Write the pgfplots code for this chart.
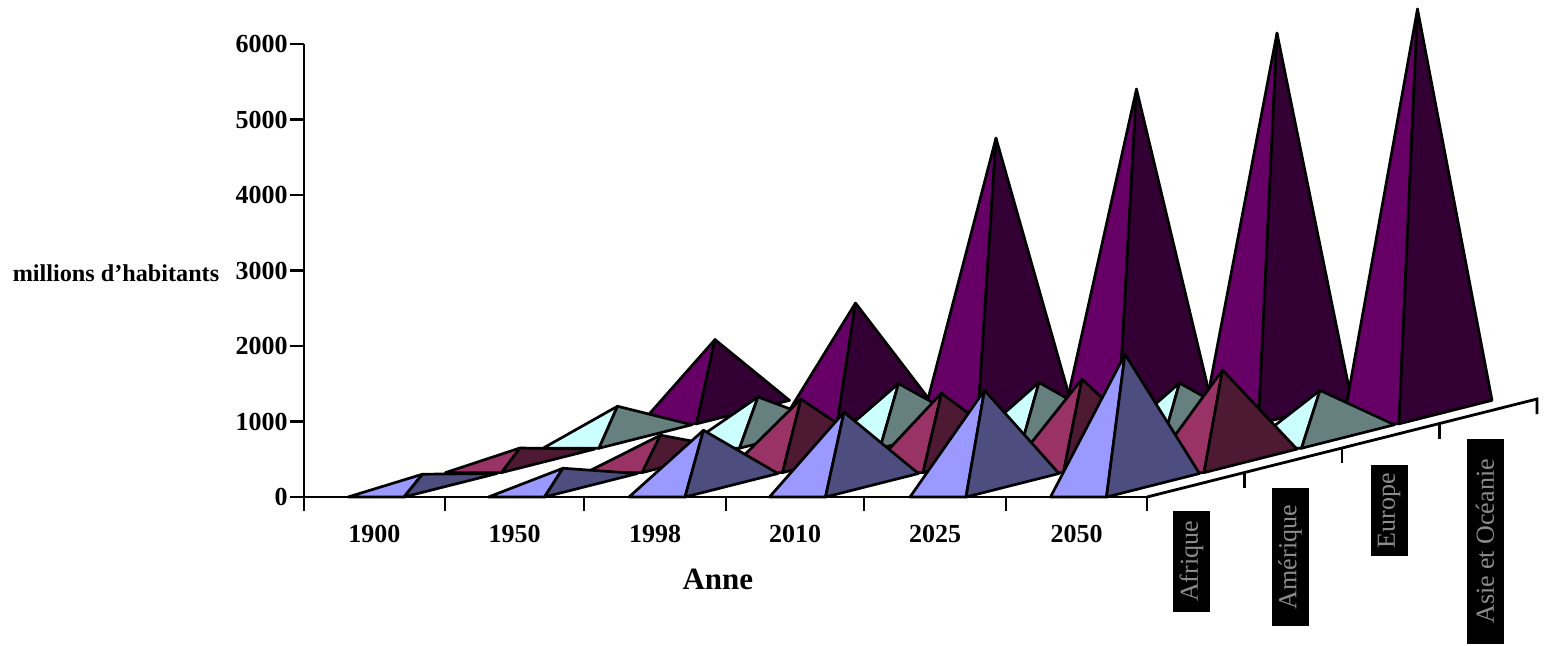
\documentclass[border=0pt]{standalone}
\usepackage{fontspec}
\setmainfont{Liberation Serif}
\usepackage{pgfplots}
\pgfplotsset{compat=1.18}

% x is in reference pixels, y in millions; the picture is 1 px = 0.5 pt
\definecolor{asiaL}{HTML}{660066}
\definecolor{asiaD}{HTML}{330033}
\definecolor{euroL}{HTML}{CCFFFF}
\definecolor{euroD}{HTML}{668080}
\definecolor{ameL}{HTML}{993366}
\definecolor{ameD}{HTML}{4D1933}
\definecolor{afrL}{HTML}{9999FF}
\definecolor{afrD}{HTML}{4D4D80}

\pgfplotsset{
  edge/.style={draw=black,line width=1.35pt,line join=round,forget plot},
  ax/.style={black,line width=1.4pt,forget plot},
}

\begin{document}
\begin{tikzpicture}
  \useasboundingbox (0,0) rectangle (772pt,322.5pt);
  \begin{axis}[
    at={(152pt,74pt)},
    anchor=origin,
    scale only axis,
    width=421.5pt,
    height=226.5pt,
    clip=false,
    xmin=304, xmax=1147,
    ymin=0, ymax=6000,
    axis x line=bottom,
    axis y line=left,
    axis line style={-,line width=1.4pt},
    tick style={black,line width=1.4pt},
    tick align=outside,
    major tick length=7pt,
    xtick={304,445,584,726,864,1006,1147},
    x tick label as interval,
    xticklabels={1900,1950,1998,2010,2025,2050},
    ytick={0,1000,2000,3000,4000,5000,6000},
    tick label style={font=\fontsize{13}{14}\selectfont\bfseries},
    yticklabel style={inner sep=1pt},
    xticklabel style={yshift=-3.5pt},
    /pgf/number format/assume math mode=true,
    /pgf/number format/1000 sep={},
    xlabel={Anne},
    xlabel style={at={(axis description cs:0.491,0)},anchor=center,yshift=-41pt,
      font=\fontsize{15.5}{18}\selectfont\bfseries},
    ylabel={millions d'habitants},
    ylabel style={at={(axis description cs:-0.223,0.4945)},anchor=center,rotate=-90,
      font=\fontsize{12.1}{14}\selectfont\bfseries},
  ]
    % Asie
    \addplot[edge,fill=asiaL] coordinates {(640.5,969) (696.5,969) (715,2085)} --cycle;
    \addplot[edge,fill=asiaD] coordinates {(696.5,969) (789.5,1280) (715,2085)} --cycle;
    \addplot[edge,fill=asiaL] coordinates {(781,969) (837,969) (855.5,2569)} --cycle;
    \addplot[edge,fill=asiaD] coordinates {(837,969) (930,1280) (855.5,2569)} --cycle;
    \addplot[edge,fill=asiaL] coordinates {(921.5,969) (977.5,969) (996,4754)} --cycle;
    \addplot[edge,fill=asiaD] coordinates {(977.5,969) (1070.5,1280) (996,4754)} --cycle;
    \addplot[edge,fill=asiaL] coordinates {(1062,969) (1118,969) (1136.5,5403)} --cycle;
    \addplot[edge,fill=asiaD] coordinates {(1118,969) (1211,1280) (1136.5,5403)} --cycle;
    \addplot[edge,fill=asiaL] coordinates {(1202.5,969) (1258.5,969) (1277,6145)} --cycle;
    \addplot[edge,fill=asiaD] coordinates {(1258.5,969) (1351.5,1280) (1277,6145)} --cycle;
    \addplot[edge,fill=asiaL] coordinates {(1343,969) (1399,969) (1417.5,6463)} --cycle;
    \addplot[edge,fill=asiaD] coordinates {(1399,969) (1492,1280) (1417.5,6463)} --cycle;
    % Europe
    \addplot[edge,fill=euroL] coordinates {(543,646) (599,646) (617.5,1202)} --cycle;
    \addplot[edge,fill=euroD] coordinates {(599,646) (692,957) (617.5,1202)} --cycle;
    \addplot[edge,fill=euroL] coordinates {(683.5,646) (739.5,646) (758,1325)} --cycle;
    \addplot[edge,fill=euroD] coordinates {(739.5,646) (832.5,957) (758,1325)} --cycle;
    \addplot[edge,fill=euroL] coordinates {(824,646) (880,646) (898.5,1502)} --cycle;
    \addplot[edge,fill=euroD] coordinates {(880,646) (973,957) (898.5,1502)} --cycle;
    \addplot[edge,fill=euroL] coordinates {(964.5,646) (1020.5,646) (1039,1517)} --cycle;
    \addplot[edge,fill=euroD] coordinates {(1020.5,646) (1113.5,957) (1039,1517)} --cycle;
    \addplot[edge,fill=euroL] coordinates {(1105,646) (1161,646) (1179.5,1510)} --cycle;
    \addplot[edge,fill=euroD] coordinates {(1161,646) (1254,957) (1179.5,1510)} --cycle;
    \addplot[edge,fill=euroL] coordinates {(1245.5,646) (1301.5,646) (1320,1412)} --cycle;
    \addplot[edge,fill=euroD] coordinates {(1301.5,646) (1394.5,957) (1320,1412)} --cycle;
    % Amerique
    \addplot[edge,fill=ameL] coordinates {(445.5,323) (501.5,323) (520,649)} --cycle;
    \addplot[edge,fill=ameD] coordinates {(501.5,323) (594.5,634) (520,649)} --cycle;
    \addplot[edge,fill=ameL] coordinates {(586,323) (642,323) (660.5,819)} --cycle;
    \addplot[edge,fill=ameD] coordinates {(642,323) (735,634) (660.5,819)} --cycle;
    \addplot[edge,fill=ameL] coordinates {(726.5,323) (782.5,323) (801,1297)} --cycle;
    \addplot[edge,fill=ameD] coordinates {(782.5,323) (875.5,634) (801,1297)} --cycle;
    \addplot[edge,fill=ameL] coordinates {(867,323) (923,323) (941.5,1376)} --cycle;
    \addplot[edge,fill=ameD] coordinates {(923,323) (1016,634) (941.5,1376)} --cycle;
    \addplot[edge,fill=ameL] coordinates {(1007.5,323) (1063.5,323) (1082,1562)} --cycle;
    \addplot[edge,fill=ameD] coordinates {(1063.5,323) (1156.5,634) (1082,1562)} --cycle;
    \addplot[edge,fill=ameL] coordinates {(1148,323) (1204,323) (1222.5,1681)} --cycle;
    \addplot[edge,fill=ameD] coordinates {(1204,323) (1297,634) (1222.5,1681)} --cycle;
    % Afrique
    \addplot[edge,fill=afrL] coordinates {(348,0) (404,0) (422.5,302)} --cycle;
    \addplot[edge,fill=afrD] coordinates {(404,0) (497,311) (422.5,302)} --cycle;
    \addplot[edge,fill=afrL] coordinates {(488.5,0) (544.5,0) (563,381)} --cycle;
    \addplot[edge,fill=afrD] coordinates {(544.5,0) (637.5,311) (563,381)} --cycle;
    \addplot[edge,fill=afrL] coordinates {(629,0) (685,0) (703.5,884)} --cycle;
    \addplot[edge,fill=afrD] coordinates {(685,0) (778,311) (703.5,884)} --cycle;
    \addplot[edge,fill=afrL] coordinates {(769.5,0) (825.5,0) (844,1123)} --cycle;
    \addplot[edge,fill=afrD] coordinates {(825.5,0) (918.5,311) (844,1123)} --cycle;
    \addplot[edge,fill=afrL] coordinates {(910,0) (966,0) (984.5,1414)} --cycle;
    \addplot[edge,fill=afrD] coordinates {(966,0) (1059,311) (984.5,1414)} --cycle;
    \addplot[edge,fill=afrL] coordinates {(1050.5,0) (1106.5,0) (1125,1891)} --cycle;
    \addplot[edge,fill=afrD] coordinates {(1106.5,0) (1199.5,311) (1125,1891)} --cycle;
    % depth axis
    \addplot[ax] coordinates {(1147,0) (1537,1298) (1537,1099)};
    \addplot[ax] coordinates {(1244.5,324) (1244.5,125)};
    \addplot[ax] coordinates {(1342,649) (1342,450)};
    \addplot[ax] coordinates {(1439.5,973) (1439.5,774)};
    % category labels of the depth axis, black boxes as in the reference
    \tikzset{lab/.style={rotate=90,fill=black,text=black!45,inner sep=0pt,anchor=center,
      minimum height=18.5pt,font=\fontsize{13}{14}\selectfont}}
    \node[lab,minimum width=50.5pt] at (axis cs:1191.5,-854) {Afrique};
    \node[lab,minimum width=69pt] at (axis cs:1290,-795) {Amérique};
    \node[lab,minimum width=45.5pt] at (axis cs:1389,-179) {Europe};
    \node[lab,minimum width=102.5pt] at (axis cs:1485,-589) {Asie et Océanie};
  \end{axis}
\end{tikzpicture}
\end{document}
